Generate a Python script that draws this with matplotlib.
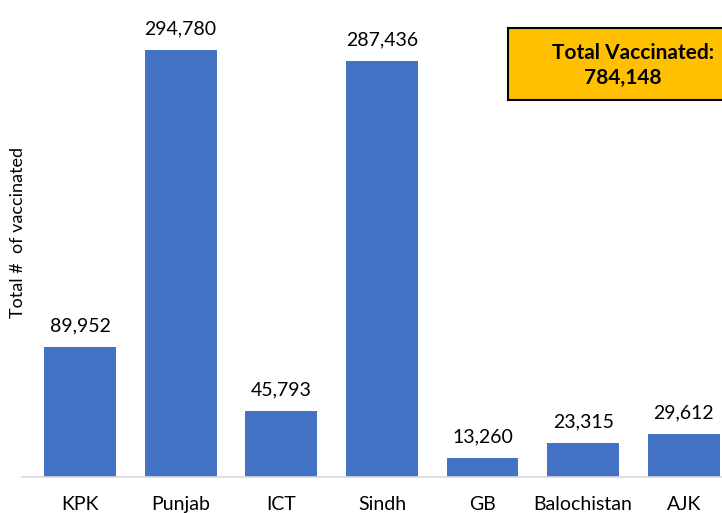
import matplotlib.pyplot as plt
from matplotlib.patches import Rectangle

regions = ['KPK', 'Punjab', 'ICT', 'Sindh', 'GB', 'Balochistan', 'AJK']
vaccinated = [89952, 294780, 45793, 287436, 13260, 23315, 29612]
total = 784148

plt.rcParams['font.family'] = ['Lato', 'DejaVu Sans']

W, H = 722, 513
fig = plt.figure(figsize=(W / 100, H / 100), dpi=100)
# axes from x=22px to right edge, baseline at y=477px, top at figure top
ax = fig.add_axes([22 / W, (H - 477) / H, 1 - 22 / W, 477 / H])

x = list(range(len(regions)))
ax.bar(x, vaccinated, width=0.715, color='#4472C4')
ax.set_xlim(-0.577, 6.38)
ax.set_ylim(0, 477 * 690.4)

for xi, v in zip(x, vaccinated):
    ax.annotate(f'{v:,}', (xi, v), xytext=(0, 9), textcoords='offset points',
                ha='center', va='bottom', fontsize=14)

ax.set_xticks(x)
ax.set_xticklabels(regions, fontsize=14)
ax.tick_params(axis='x', length=0, pad=14)
ax.set_yticks([])
for s in ['top', 'right', 'left']:
    ax.spines[s].set_visible(False)
ax.spines['bottom'].set_color('#d9d9d9')
ax.spines['bottom'].set_linewidth(1.2)

fig.text(18 / W, 1 - 232 / H, 'Total #  of vaccinated', rotation=90,
         ha='center', va='center', fontsize=13)

# total box
fig.patches.append(Rectangle((508 / W, 1 - 100 / H), 240 / W, 72 / H,
                             transform=fig.transFigure, facecolor='#FFC000',
                             edgecolor='black', linewidth=1.5))
fig.text(552 / W, 1 - 53 / H, 'Total Vaccinated:', ha='left', va='center',
         fontsize=15, fontweight='bold')
fig.text(584 / W, 1 - 78 / H, f'{total:,}', ha='left', va='center',
         fontsize=15, fontweight='bold')

fig.savefig('out.png', dpi=100)
